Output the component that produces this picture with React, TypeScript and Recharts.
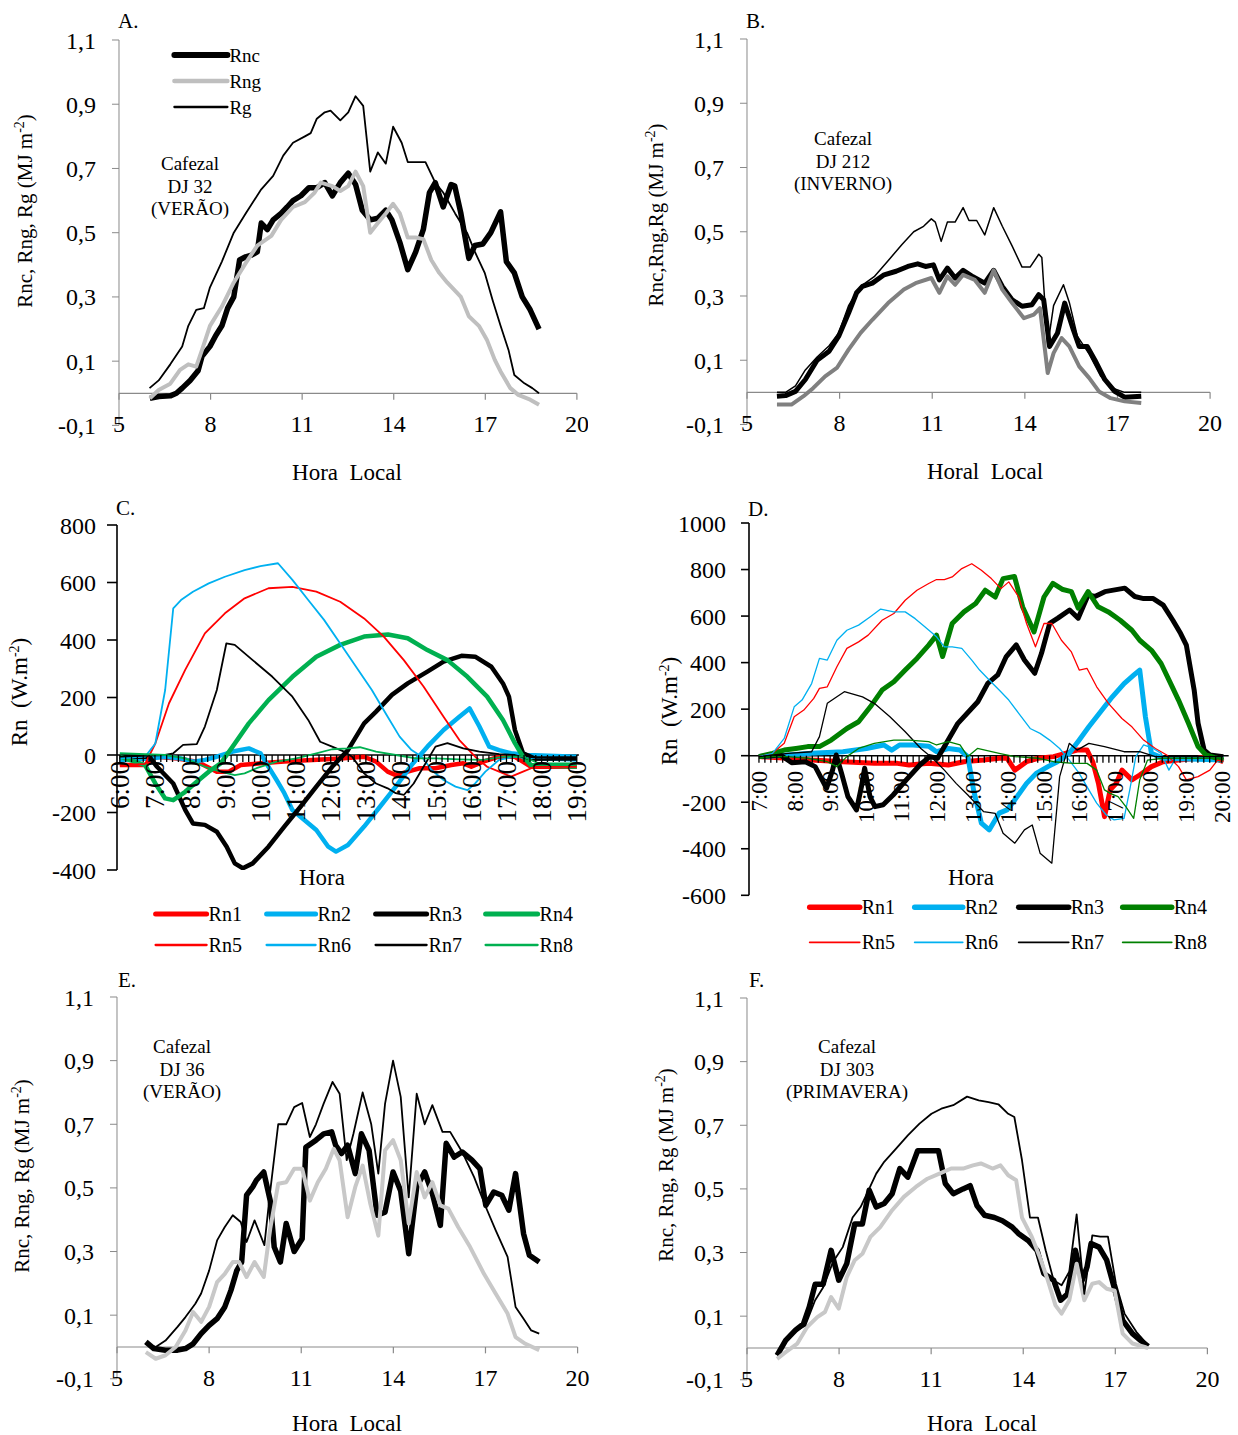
import React from 'react';
import { LineChart, Line, XAxis, YAxis, ReferenceLine, Legend } from 'recharts';

type Pt = [number, number];

// ─── data: [hour, value] ─────────────────────────────────────

// A. Cafezal DJ 32 (verão), MJ m-2
const A_RNC: Pt[] = [[6.01,-0.016],[6.3,-0.01],[6.68,-0.008],[6.88,0],[7.07,0.016],[7.33,0.04],[7.59,0.07],[7.72,0.115],[7.98,0.146],[8.17,0.18],[8.37,0.21],[8.56,0.265],[8.76,0.3],[8.95,0.415],[9.15,0.425],[9.34,0.43],[9.53,0.44],[9.66,0.53],[9.86,0.51],[10.05,0.54],[10.31,0.56],[10.51,0.58],[10.7,0.6],[10.96,0.615],[11.22,0.64],[11.48,0.64],[11.74,0.656],[11.99,0.615],[12.25,0.656],[12.51,0.685],[12.75,0.65],[12.97,0.57],[13.23,0.54],[13.48,0.545],[13.74,0.57],[13.94,0.54],[14.2,0.47],[14.46,0.385],[14.72,0.44],[14.97,0.51],[15.17,0.625],[15.36,0.656],[15.62,0.58],[15.88,0.65],[16.0,0.645],[16.2,0.56],[16.46,0.42],[16.66,0.46],[16.92,0.465],[17.18,0.5],[17.5,0.565],[17.69,0.41],[17.95,0.375],[18.21,0.3],[18.47,0.26],[18.76,0.2]];
const A_RNG: Pt[] = [[6.01,-0.016],[6.3,0.01],[6.68,0.03],[7.0,0.073],[7.27,0.09],[7.53,0.083],[7.72,0.135],[7.98,0.21],[8.37,0.27],[8.76,0.345],[9.15,0.405],[9.53,0.46],[9.99,0.49],[10.31,0.54],[10.7,0.58],[11.09,0.595],[11.41,0.625],[11.61,0.656],[11.99,0.645],[12.25,0.63],[12.51,0.645],[12.75,0.69],[13.0,0.645],[13.23,0.5],[13.48,0.53],[13.74,0.56],[13.98,0.59],[14.2,0.56],[14.46,0.485],[14.72,0.485],[14.97,0.48],[15.23,0.415],[15.49,0.375],[15.75,0.345],[16.2,0.3],[16.46,0.24],[16.79,0.21],[17.05,0.167],[17.31,0.104],[17.5,0.068],[17.82,0.016],[18.08,-0.005],[18.47,-0.02],[18.76,-0.036]];
const A_RG: Pt[] = [[6.0,0.016],[6.3,0.04],[6.68,0.09],[7.07,0.146],[7.27,0.21],[7.53,0.26],[7.78,0.265],[7.98,0.33],[8.37,0.41],[8.76,0.5],[9.15,0.56],[9.66,0.635],[10.05,0.677],[10.38,0.74],[10.7,0.78],[11.09,0.8],[11.28,0.81],[11.48,0.855],[11.74,0.875],[11.93,0.88],[12.25,0.85],[12.51,0.875],[12.75,0.925],[13.0,0.895],[13.23,0.69],[13.48,0.75],[13.74,0.715],[13.98,0.83],[14.26,0.78],[14.46,0.72],[14.65,0.72],[15.04,0.72],[15.36,0.656],[15.62,0.625],[16.01,0.56],[16.4,0.5],[16.66,0.44],[16.98,0.375],[17.24,0.29],[17.5,0.21],[17.76,0.135],[17.95,0.057],[18.28,0.031],[18.54,0.016],[18.76,0]];

// B. Cafezal DJ 212 (inverno)
const B_RNC: Pt[] = [[5.97,-0.012],[6.25,-0.01],[6.57,0.003],[6.89,0.04],[7.27,0.1],[7.66,0.128],[7.97,0.175],[8.29,0.247],[8.55,0.31],[8.74,0.33],[9.06,0.34],[9.44,0.366],[9.83,0.377],[10.21,0.392],[10.53,0.4],[10.78,0.392],[11.04,0.397],[11.23,0.35],[11.49,0.387],[11.74,0.356],[12.0,0.38],[12.32,0.36],[12.7,0.34],[12.99,0.38],[13.27,0.33],[13.59,0.288],[13.91,0.268],[14.23,0.273],[14.45,0.304],[14.61,0.288],[14.8,0.143],[15.06,0.185],[15.29,0.278],[15.57,0.195],[15.76,0.143],[16.02,0.143],[16.27,0.1],[16.59,0.04],[16.91,0.003],[17.23,-0.015],[17.77,-0.012]];
const B_RNG: Pt[] = [[5.97,-0.038],[6.44,-0.038],[6.83,-0.012],[7.14,0.013],[7.53,0.05],[7.91,0.076],[8.29,0.133],[8.68,0.185],[9.06,0.226],[9.57,0.278],[10.08,0.32],[10.46,0.34],[10.97,0.356],[11.23,0.31],[11.49,0.361],[11.74,0.335],[12.0,0.366],[12.38,0.35],[12.7,0.31],[12.99,0.38],[13.27,0.32],[13.59,0.278],[13.97,0.231],[14.29,0.242],[14.49,0.262],[14.74,0.06],[14.93,0.122],[15.19,0.169],[15.44,0.143],[15.76,0.081],[16.08,0.045],[16.4,0.003],[16.78,-0.018],[17.23,-0.028],[17.77,-0.033]];
const B_RG: Pt[] = [[5.97,0],[6.25,0],[6.57,0.02],[6.89,0.07],[7.27,0.11],[7.66,0.145],[7.97,0.185],[8.29,0.27],[8.68,0.33],[9.12,0.36],[9.57,0.41],[10.02,0.46],[10.4,0.5],[10.72,0.517],[10.97,0.54],[11.1,0.53],[11.29,0.47],[11.49,0.53],[11.74,0.53],[12.0,0.575],[12.19,0.535],[12.44,0.535],[12.7,0.49],[12.99,0.575],[13.27,0.517],[13.59,0.455],[13.91,0.39],[14.17,0.39],[14.45,0.43],[14.55,0.42],[14.74,0.145],[14.93,0.27],[15.25,0.335],[15.44,0.28],[15.7,0.175],[16.08,0.12],[16.46,0.05],[16.85,0.013],[17.23,0],[17.77,0]];

// E. Cafezal DJ 36 (verão)
const E_RNC: Pt[] = [[5.94,0.016],[6.2,-0.005],[6.58,-0.01],[6.97,-0.01],[7.23,-0.005],[7.48,0.01],[7.74,0.042],[8.0,0.068],[8.26,0.089],[8.51,0.126],[8.71,0.178],[8.9,0.24],[9.06,0.267],[9.22,0.477],[9.42,0.503],[9.54,0.524],[9.78,0.55],[9.99,0.46],[10.12,0.314],[10.32,0.267],[10.51,0.388],[10.77,0.3],[11.03,0.34],[11.15,0.628],[11.48,0.65],[11.73,0.67],[11.99,0.676],[12.12,0.634],[12.31,0.608],[12.51,0.634],[12.76,0.545],[12.96,0.67],[13.21,0.618],[13.47,0.414],[13.73,0.424],[13.99,0.55],[14.24,0.49],[14.5,0.293],[14.76,0.503],[15.02,0.55],[15.27,0.482],[15.53,0.382],[15.72,0.64],[15.98,0.597],[16.24,0.613],[16.56,0.587],[16.82,0.56],[17.01,0.445],[17.27,0.487],[17.53,0.477],[17.76,0.43],[17.98,0.545],[18.24,0.356],[18.43,0.288],[18.75,0.267]];
const E_RNG: Pt[] = [[5.94,-0.016],[6.26,-0.037],[6.58,-0.026],[6.91,0],[7.23,0.052],[7.48,0.11],[7.74,0.079],[8.0,0.126],[8.26,0.204],[8.51,0.23],[8.77,0.267],[8.97,0.267],[9.22,0.22],[9.48,0.267],[9.78,0.22],[9.99,0.372],[10.25,0.513],[10.51,0.518],[10.77,0.56],[11.03,0.56],[11.28,0.46],[11.54,0.518],[11.8,0.56],[12.06,0.623],[12.25,0.587],[12.51,0.408],[12.76,0.503],[13.0,0.57],[13.25,0.45],[13.51,0.35],[13.73,0.618],[13.99,0.65],[14.24,0.587],[14.5,0.388],[14.76,0.55],[15.02,0.47],[15.27,0.518],[15.53,0.445],[15.79,0.435],[16.11,0.377],[16.5,0.314],[16.95,0.23],[17.33,0.168],[17.72,0.105],[17.98,0.031],[18.3,0.01],[18.75,-0.01]];
const E_RG: Pt[] = [[5.94,0.01],[6.26,0],[6.58,0.02],[6.97,0.063],[7.23,0.094],[7.55,0.136],[7.74,0.168],[8.0,0.24],[8.26,0.335],[8.51,0.377],[8.77,0.414],[9.03,0.393],[9.22,0.33],[9.48,0.398],[9.8,0.32],[9.99,0.49],[10.25,0.7],[10.51,0.7],[10.77,0.754],[11.03,0.767],[11.28,0.66],[11.48,0.7],[11.73,0.765],[12.02,0.833],[12.25,0.796],[12.48,0.587],[12.7,0.67],[13.0,0.8],[13.28,0.7],[13.51,0.545],[13.73,0.765],[13.99,0.9],[14.24,0.786],[14.5,0.47],[14.76,0.796],[15.02,0.7],[15.27,0.76],[15.6,0.676],[15.85,0.676],[16.24,0.613],[16.63,0.534],[17.01,0.44],[17.33,0.367],[17.72,0.283],[17.98,0.126],[18.24,0.089],[18.49,0.052],[18.75,0.042]];

// F. Cafezal DJ 303 (primavera)
const F_RNC: Pt[] = [[5.98,-0.023],[6.26,0.024],[6.58,0.056],[6.84,0.076],[7.03,0.129],[7.22,0.2],[7.48,0.2],[7.74,0.307],[7.99,0.213],[8.25,0.265],[8.51,0.39],[8.76,0.39],[8.98,0.496],[9.21,0.443],[9.47,0.454],[9.73,0.485],[9.98,0.564],[10.24,0.537],[10.56,0.62],[11.01,0.62],[11.24,0.62],[11.46,0.517],[11.72,0.485],[12.04,0.5],[12.27,0.51],[12.49,0.448],[12.74,0.417],[13.06,0.41],[13.32,0.4],[13.64,0.38],[13.84,0.36],[14.16,0.338],[14.45,0.307],[14.67,0.234],[14.99,0.213],[15.22,0.15],[15.44,0.17],[15.7,0.307],[15.92,0.213],[16.08,0.255],[16.21,0.328],[16.47,0.317],[16.72,0.276],[17.02,0.17],[17.24,0.087],[17.56,0.045],[17.82,0.024],[18.07,0.005]];
const F_RNG: Pt[] = [[5.98,-0.034],[6.26,-0.013],[6.64,0.014],[6.96,0.066],[7.29,0.097],[7.54,0.113],[7.74,0.16],[7.99,0.124],[8.25,0.223],[8.51,0.276],[8.76,0.296],[9.02,0.349],[9.34,0.38],[9.73,0.433],[10.11,0.475],[10.5,0.506],[10.88,0.532],[11.27,0.548],[11.65,0.564],[12.04,0.564],[12.36,0.574],[12.62,0.58],[13.0,0.564],[13.26,0.574],[13.51,0.543],[13.77,0.527],[13.96,0.41],[14.28,0.349],[14.54,0.286],[14.8,0.213],[15.05,0.134],[15.25,0.108],[15.5,0.15],[15.74,0.265],[15.99,0.15],[16.25,0.202],[16.47,0.207],[16.72,0.186],[16.98,0.18],[17.24,0.045],[17.56,0.014],[18.07,0]];
const F_RG: Pt[] = [[5.98,-0.023],[6.26,0.024],[6.64,0.056],[6.9,0.071],[7.22,0.15],[7.48,0.19],[7.8,0.27],[8.12,0.317],[8.44,0.41],[8.7,0.443],[8.96,0.496],[9.21,0.548],[9.47,0.585],[9.85,0.626],[10.24,0.668],[10.62,0.705],[11.01,0.736],[11.33,0.752],[11.72,0.763],[12.17,0.79],[12.55,0.778],[12.87,0.773],[13.19,0.766],[13.51,0.736],[13.71,0.726],[13.96,0.59],[14.22,0.41],[14.48,0.41],[14.73,0.307],[14.99,0.213],[15.25,0.197],[15.5,0.24],[15.74,0.42],[15.99,0.17],[16.25,0.354],[16.51,0.35],[16.76,0.35],[17.02,0.202],[17.3,0.108],[17.69,0.05],[18.07,0.008]];

// C. Rn (W m-2), 6:00-19:00
const C_RN1: Pt[] = [[6,-35],[6.72,-35],[7.06,-6],[7.63,-12],[8.19,-23],[8.76,-58],[9.1,-58],[9.44,-35],[10,-29],[10.68,-23],[11.48,-17],[12.27,-12],[12.95,-6],[13.29,-23],[13.62,-58],[13.85,-70],[14.19,-58],[14.53,-46],[14.98,-46],[15.43,-35],[15.77,-29],[16,-41],[16.34,-23],[16.79,-6],[17.24,-6],[17.7,-41],[19,-41]];
const C_RN2: Pt[] = [[6,-17],[6.84,-12],[7.29,-6],[7.74,-12],[8.08,-23],[8.42,-17],[8.76,-6],[9.21,12],[9.67,23],[10,6],[10.23,-41],[10.46,-87],[10.68,-133],[10.91,-191],[11.25,-226],[11.59,-261],[11.93,-319],[12.15,-336],[12.49,-313],[12.95,-249],[13.4,-180],[13.85,-110],[14.3,-35],[14.75,29],[15.21,87],[15.66,133],[15.95,162],[16.23,99],[16.51,29],[16.79,17],[17.13,6],[17.58,0],[19,-6]];
const C_RN3: Pt[] = [[6,-6],[6.84,-6],[7.06,-41],[7.52,-99],[7.86,-191],[8.08,-238],[8.42,-243],[8.76,-267],[9.04,-319],[9.27,-377],[9.5,-394],[9.78,-377],[10.23,-319],[10.68,-249],[11.14,-180],[11.59,-110],[12.04,-41],[12.49,17],[12.95,110],[13.29,151],[13.74,209],[14.19,249],[14.75,290],[15.21,325],[15.72,345],[16.11,342],[16.57,307],[16.9,249],[17.07,203],[17.24,87],[17.47,6],[17.81,-12],[19,-12]];
const C_RN4: Pt[] = [[6,-6],[6.72,-35],[7.01,-99],[7.29,-151],[7.52,-157],[7.86,-128],[8.19,-93],[8.53,-58],[8.87,-29],[9.21,29],[9.67,110],[10.23,191],[10.91,272],[11.59,342],[12.27,383],[12.95,412],[13.63,419],[14.19,406],[14.75,365],[15.32,330],[15.89,272],[16.45,203],[16.9,122],[17.24,41],[17.47,-6],[17.7,-35],[19,-41]];
const C_RN5: Pt[] = [[6,-35],[6.72,-31],[7.01,40],[7.4,180],[7.86,296],[8.42,423],[8.99,493],[9.55,545],[10.23,580],[10.91,585],[11.59,568],[12.27,533],[12.95,475],[13.51,412],[14.08,330],[14.64,238],[15.21,133],[15.66,52],[16.11,-6],[16.45,-41],[16.79,-58],[17.13,-75],[17.47,-58],[17.81,-41],[19,-41]];
const C_RN6: Pt[] = [[6,-12],[6.72,-6],[7.01,40],[7.29,226],[7.52,510],[7.74,539],[8.08,568],[8.53,597],[8.99,620],[9.55,643],[10,657],[10.5,667],[10.91,609],[11.36,539],[11.81,470],[12.27,388],[12.72,307],[13.17,226],[13.62,133],[13.96,64],[14.3,17],[14.59,-6],[14.87,-52],[15.21,-87],[15.55,-110],[15.89,-122],[16.11,-99],[16.4,-58],[16.79,-17],[17.24,-6],[17.81,-15],[19,-20]];
const C_RN7: Pt[] = [[6,-6],[7.29,0],[7.52,6],[7.8,35],[8.19,38],[8.42,99],[8.76,226],[9.03,388],[9.27,383],[9.78,330],[10.34,272],[10.91,203],[11.36,122],[11.7,46],[12.04,29],[12.38,12],[12.61,-6],[12.95,-64],[13.29,-99],[13.62,-116],[13.85,-133],[14.08,-139],[14.36,-99],[14.64,-41],[14.98,29],[15.32,41],[15.77,23],[16.23,12],[16.79,3],[17.24,0],[17.7,-17],[19,-17]];
const C_RN8: Pt[] = [[6,6],[7.29,0],[7.86,-12],[8.42,-41],[8.87,-58],[9.27,-70],[9.55,-64],[9.89,-46],[10.46,-23],[11.02,-12],[11.59,6],[12.04,20],[12.49,23],[12.83,27],[13.29,12],[13.85,0],[14.42,-12],[14.98,-12],[15.66,-15],[16.34,-17],[16.9,-6],[17.47,-6],[17.92,-29],[19,-29]];

// D. Rn (W m-2), 7:00-20:00
const D_RN1: Pt[] = [[7,-4],[7.82,-11],[8.48,-19],[9.36,-26],[10.24,-33],[10.89,-33],[11.22,-40],[11.77,-33],[12.32,-40],[12.76,-26],[13.31,-19],[13.75,-11],[13.97,-11],[14.19,-62],[14.52,-26],[14.84,-11],[15.28,-4],[15.61,10],[15.94,24],[16.22,24],[16.38,-26],[16.54,-119],[16.71,-262],[16.87,-147],[17.04,-119],[17.2,-62],[17.48,-104],[17.7,-83],[18.03,-47],[18.36,-26],[18.79,-19],[19.34,-11],[19.67,-4],[20.05,-26]];
const D_RN2: Pt[] = [[7,-4],[7.82,3],[8.48,10],[9.36,17],[10.02,31],[10.51,46],[10.73,24],[10.95,46],[11.33,46],[11.77,41],[11.99,17],[12.32,31],[12.65,24],[12.87,-4],[13.03,-147],[13.25,-290],[13.47,-319],[13.75,-247],[13.97,-233],[14.19,-190],[14.52,-119],[14.79,-76],[15.12,-47],[15.39,-26],[15.72,10],[16,67],[16.27,124],[16.6,189],[16.93,253],[17.26,310],[17.53,346],[17.7,368],[17.86,167],[18.03,10],[18.36,-11],[20.05,-19]];
const D_RN3: Pt[] = [[7,-4],[7.6,3],[7.92,-30],[8.3,-26],[8.58,-47],[8.9,-140],[9.07,-61],[9.17,3],[9.32,-75],[9.5,-176],[9.74,-233],[9.88,-133],[9.97,-54],[10.12,-176],[10.26,-219],[10.49,-211],[10.77,-169],[11.14,-104],[11.52,-40],[11.8,-4],[12.02,-11],[12.59,139],[13.15,232],[13.43,311],[13.71,347],[13.95,426],[14.23,476],[14.46,411],[14.75,354],[14.94,440],[15.17,569],[15.4,591],[15.73,626],[15.97,591],[16.25,691],[16.44,684],[16.72,705],[17.28,720],[17.56,684],[17.81,675],[18.08,675],[18.36,647],[18.63,582],[18.85,525],[19.01,475],[19.23,282],[19.34,139],[19.51,24],[19.67,3],[20.05,-4]];
const D_RN4: Pt[] = [[7,-4],[7.38,10],[7.71,24],[8.04,31],[8.37,39],[8.7,39],[9.03,67],[9.47,117],[9.8,146],[10.13,210],[10.46,282],[10.79,318],[11.11,368],[11.44,418],[11.77,475],[11.99,518],[12.16,426],[12.43,568],[12.76,618],[13.09,654],[13.36,711],[13.64,682],[13.86,761],[14.18,770],[14.41,639],[14.73,532],[15.01,682],[15.26,741],[15.54,714],[15.78,705],[15.97,634],[16.25,705],[16.53,640],[16.82,618],[17.15,582],[17.48,539],[17.7,496],[18.03,453],[18.3,396],[18.57,310],[18.79,239],[19.07,139],[19.34,39],[19.56,3],[20.05,-19]];
const D_RN5: Pt[] = [[7,-4],[7.38,10],[7.71,53],[7.99,167],[8.26,196],[8.54,246],[8.7,289],[8.92,296],[9.19,382],[9.47,461],[9.8,489],[10.07,518],[10.46,582],[10.79,611],[11.11,668],[11.44,711],[11.77,740],[11.99,757],[12.21,757],[12.43,768],[12.7,804],[12.98,825],[13.25,797],[13.53,761],[13.8,718],[14.02,747],[14.3,682],[14.52,568],[14.77,468],[15.01,568],[15.23,568],[15.5,496],[15.78,446],[16,368],[16.22,375],[16.49,296],[16.82,225],[17.2,160],[17.48,124],[17.81,67],[18.14,31],[18.46,3],[18.79,-47],[19.01,-104],[19.34,-90],[19.67,-62],[19.89,-19],[20.05,-26]];
const D_RN6: Pt[] = [[7,-4],[7.38,10],[7.71,74],[7.99,210],[8.21,239],[8.48,310],[8.7,418],[8.92,411],[9.19,496],[9.47,539],[9.8,561],[10.13,597],[10.42,630],[10.79,618],[11.11,618],[11.39,589],[11.66,554],[11.99,511],[12.21,468],[12.43,468],[12.7,461],[12.98,411],[13.2,368],[13.47,325],[13.75,282],[14.02,239],[14.3,182],[14.62,117],[14.9,96],[15.17,67],[15.45,31],[15.72,-19],[16,-76],[16.27,-147],[16.49,-204],[16.76,-255],[16.98,-276],[17.26,-269],[17.42,-147],[17.59,-4],[17.81,46],[18.08,31],[18.3,10],[18.52,-62],[18.74,-4],[19.12,-4],[20.05,-4]];
const D_RN7: Pt[] = [[7,-4],[7.82,10],[8.48,17],[8.7,82],[8.92,225],[9.19,253],[9.4,275],[9.91,253],[10.24,225],[10.68,167],[11.11,103],[11.55,31],[11.88,-11],[12.21,-62],[12.54,-119],[12.87,-169],[13.09,-205],[13.31,-240],[13.64,-248],[13.86,-333],[14.19,-376],[14.46,-319],[14.68,-298],[14.9,-419],[15.23,-462],[15.45,-90],[15.72,53],[15.94,24],[16.27,53],[16.71,39],[17.26,17],[17.7,17],[18.14,-4],[20.05,-4]];
const D_RN8: Pt[] = [[7,-11],[7.38,-4],[7.82,-4],[8.37,-11],[8.92,-26],[9.19,-47],[9.47,-4],[9.8,31],[10.24,53],[10.79,67],[11.22,67],[11.77,60],[11.99,46],[12.32,60],[12.65,46],[12.87,-4],[13.14,31],[13.75,10],[14.19,-4],[14.84,-11],[15.28,-26],[15.83,-33],[16.22,-33],[16.49,-62],[16.71,-147],[16.87,-162],[17.09,-176],[17.31,-219],[17.53,-269],[17.7,-104],[17.92,-19],[18.36,-11],[20.05,-11]];

// ─── axis ticks ──────────────────────────────────────────

const HOUR_TICKS = [5, 8, 11, 14, 17, 20];
const MJ_TICKS = [-0.1, 0.1, 0.3, 0.5, 0.7, 0.9, 1.1];
const C_Y_TICKS = [-400, -200, 0, 200, 400, 600, 800];
const D_Y_TICKS = [-600, -400, -200, 0, 200, 400, 600, 800, 1000];

// ─── styling ────────────────────────────────────────────

const FONT = '"Liberation Serif", "Times New Roman", serif';
const GRAY_AXIS = '#8a8a8a';
const RED = '#FF0000';
const BLUE = '#00B0F0';
const GREEN = '#00B050';
const DKGREEN = '#008000';

const YW = 100; // y axis width
const MT = 22;
const MR = 12;
const XH = 30;

interface Series {
  name: string;
  data: Pt[];
  color: string;
  width: number;
}

interface Box {
  x0: number;
  x1: number;
  y0: number;
  y1: number;
}

interface LegendItem {
  name: string;
  x1: number;
  x2: number;
  y: number;
}

const rows = (pts: Pt[]) => pts.map(([t, v]) => ({ t, v }));
const comma = (v: number) => v.toFixed(1).replace('.', ',');

function makeLegend(items: LegendItem[], series: Series[], ox: number, oy: number, fontSize: number) {
  return ({ payload }: any) => {
    const byName: Record<string, any> = {};
    (payload || []).forEach((p: any) => (byName[p.value] = p));
    return (
      <svg width={1238} height={1435} style={{ overflow: 'visible', display: 'block' }}>
        {items.map((it) => {
          const s = series.find((q) => q.name === it.name)!;
          const color = byName[it.name]?.color ?? s.color;
          return (
            <g key={it.name}>
              <line x1={it.x1 - ox} x2={it.x2 - ox} y1={it.y - oy} y2={it.y - oy} stroke={color} strokeWidth={s.width + 0.5} strokeLinecap="round" />
              <text x={it.x2 - ox + 2} y={it.y - oy} dy="0.35em" fontSize={fontSize} fontFamily={FONT} fill="#000">
                {it.name}
              </text>
            </g>
          );
        })}
      </svg>
    );
  };
}

function hourTick(props: any) {
  const { x, y, payload } = props;
  return (
    <text x={x} y={y - 1.5} dy="0.35em" textAnchor="middle" fontSize={24} fontFamily={FONT} fill="#000">
      {payload.value}
    </text>
  );
}

function EnergyPanel({ box, series, legend }: { box: Box; series: Series[]; legend?: LegendItem[] }) {
  const { x0, x1, y0, y1 } = box;
  const left = x0 - YW;
  const top = y0 - MT;
  const width = x1 - x0 + YW + MR;
  const height = y1 - y0 + MT + XH;
  return (
    <div style={{ position: 'absolute', left, top }}>
      <LineChart width={width} height={height} margin={{ top: MT, right: MR, bottom: 0, left: 0 }}>
        <XAxis type="number" dataKey="t" domain={[5, 20]} ticks={HOUR_TICKS} interval={0} height={XH}
          axisLine={false} tickLine={false} tickSize={0} tickMargin={0} tick={hourTick} allowDataOverflow />
        <YAxis type="number" domain={[-0.1, 1.1]} ticks={MJ_TICKS} interval={0} width={YW} tickFormatter={comma}
          tick={{ fill: '#000', fontSize: 24, fontFamily: FONT }} axisLine={{ stroke: GRAY_AXIS }}
          tickLine={{ stroke: GRAY_AXIS }} tickSize={7} tickMargin={16} allowDataOverflow />
        <ReferenceLine y={0} stroke={GRAY_AXIS} strokeWidth={1.2} ifOverflow="visible" />
        {HOUR_TICKS.map((t) => (
          <ReferenceLine key={t} segment={[{ x: t, y: 0 }, { x: t, y: -0.02 }]} stroke={GRAY_AXIS} strokeWidth={1.2} ifOverflow="visible" />
        ))}
        {series.map((s) => (
          <Line key={s.name} data={rows(s.data)} dataKey="v" name={s.name} type="linear" stroke={s.color}
            strokeWidth={s.width} strokeLinejoin="round" dot={false} activeDot={false} isAnimationActive={false} />
        ))}
        {legend && (
          <Legend layout="horizontal" verticalAlign="middle" align="center"
            wrapperStyle={{ left: 0, top: 0, width, height, margin: 0 }}
            content={makeLegend(legend, series, left, top, 19)} />
        )}
      </LineChart>
    </div>
  );
}

function FluxPanel({ box, xDomain, hourStart, yDomain, yTicks, series, legend, labelSize, labelGap, yTickSize, yTickMargin }: {
  box: Box; xDomain: [number, number]; hourStart: number; yDomain: [number, number]; yTicks: number[]; series: Series[]; legend: LegendItem[];
  labelSize: number; labelGap: number; yTickSize: number; yTickMargin: number;
}) {
  const { x0, x1, y0, y1 } = box;
  const left = x0 - YW;
  const top = y0 - MT;
  const width = x1 - x0 + YW + MR;
  const height = y1 - y0 + MT + XH;
  const plotH = y1 - y0;
  const minorTicks = Array.from({ length: 79 }, (_, i) => hourStart + i / 6);

  const timeTick = (props: any) => {
    const { x, y, payload } = props;
    const zy = y - (plotH * (0 - yDomain[0])) / (yDomain[1] - yDomain[0]);
    const v = payload.value as number;
    const whole = Math.abs(v - Math.round(v)) < 1e-6;
    const ly = zy + labelGap;
    return (
      <g>
        <line x1={x} x2={x} y1={zy} y2={zy + 7} stroke="#000" strokeWidth={1.3} />
        {whole && (
          <text transform={`rotate(-90 ${x} ${ly})`} x={x} y={ly} dy="0.35em" textAnchor="end" fontSize={labelSize} fontFamily={FONT} fill="#000">
            {`${Math.round(v)}:00`}
          </text>
        )}
      </g>
    );
  };

  return (
    <div style={{ position: 'absolute', left, top }}>
      <LineChart width={width} height={height} margin={{ top: MT, right: MR, bottom: 0, left: 0 }}>
        <XAxis type="number" dataKey="t" domain={xDomain} ticks={minorTicks} interval={0} height={XH}
          axisLine={false} tickLine={false} tickSize={0} tickMargin={0} tick={timeTick} allowDataOverflow />
        <YAxis type="number" domain={yDomain} ticks={yTicks} interval={0} width={YW}
          tick={{ fill: '#000', fontSize: 24, fontFamily: FONT }} axisLine={{ stroke: '#000', strokeWidth: 1.6 }}
          tickLine={{ stroke: '#000', strokeWidth: 1.6 }} tickSize={yTickSize} tickMargin={yTickMargin} allowDataOverflow />
        <ReferenceLine y={0} stroke="#000" strokeWidth={1.6} ifOverflow="visible" />
        {series.map((s) => (
          <Line key={s.name} data={rows(s.data)} dataKey="v" name={s.name} type="linear" stroke={s.color}
            strokeWidth={s.width} strokeLinejoin="round" dot={false} activeDot={false} isAnimationActive={false} />
        ))}
        <Legend layout="horizontal" verticalAlign="middle" align="center"
          wrapperStyle={{ left: 0, top: 0, width, height, margin: 0 }}
          content={makeLegend(legend, series, left, top, 20)} />
      </LineChart>
    </div>
  );
}

// ─── panels ──────────────────────────────────────────────

const SER_A: Series[] = [
  { name: 'Rnc', data: A_RNC, color: '#000', width: 5.5 },
  { name: 'Rng', data: A_RNG, color: '#BFBFBF', width: 4 },
  { name: 'Rg', data: A_RG, color: '#000', width: 1.8 },
];
const SER_B: Series[] = [
  { name: 'Rnc', data: B_RNC, color: '#000', width: 5 },
  { name: 'Rng', data: B_RNG, color: '#808080', width: 4 },
  { name: 'Rg', data: B_RG, color: '#000', width: 1.5 },
];
const SER_E: Series[] = [
  { name: 'Rnc', data: E_RNC, color: '#000', width: 5.5 },
  { name: 'Rng', data: E_RNG, color: '#C8C8C8', width: 4 },
  { name: 'Rg', data: E_RG, color: '#000', width: 1.8 },
];
const SER_F: Series[] = [
  { name: 'Rnc', data: F_RNC, color: '#000', width: 5.5 },
  { name: 'Rng', data: F_RNG, color: '#C8C8C8', width: 4 },
  { name: 'Rg', data: F_RG, color: '#000', width: 1.8 },
];
const SER_C: Series[] = [
  { name: 'Rn1', data: C_RN1, color: RED, width: 4.5 },
  { name: 'Rn2', data: C_RN2, color: BLUE, width: 4.5 },
  { name: 'Rn3', data: C_RN3, color: '#000', width: 4.5 },
  { name: 'Rn4', data: C_RN4, color: GREEN, width: 4.5 },
  { name: 'Rn5', data: C_RN5, color: RED, width: 1.8 },
  { name: 'Rn6', data: C_RN6, color: BLUE, width: 1.8 },
  { name: 'Rn7', data: C_RN7, color: '#000', width: 1.8 },
  { name: 'Rn8', data: C_RN8, color: GREEN, width: 1.8 },
];
const SER_D: Series[] = [
  { name: 'Rn1', data: D_RN1, color: RED, width: 5 },
  { name: 'Rn2', data: D_RN2, color: BLUE, width: 5 },
  { name: 'Rn3', data: D_RN3, color: '#000', width: 5 },
  { name: 'Rn4', data: D_RN4, color: DKGREEN, width: 5 },
  { name: 'Rn5', data: D_RN5, color: RED, width: 1.3 },
  { name: 'Rn6', data: D_RN6, color: BLUE, width: 1.3 },
  { name: 'Rn7', data: D_RN7, color: '#000', width: 1.3 },
  { name: 'Rn8', data: D_RN8, color: DKGREEN, width: 1.3 },
];

const LEG_A: LegendItem[] = [
  { name: 'Rnc', x1: 174, x2: 227, y: 55 },
  { name: 'Rng', x1: 174, x2: 227, y: 81 },
  { name: 'Rg', x1: 174, x2: 227, y: 107 },
];

const gridLegend = (cols: [number, number][], rowsY: [number, number]): LegendItem[] =>
  ['Rn1', 'Rn2', 'Rn3', 'Rn4', 'Rn5', 'Rn6', 'Rn7', 'Rn8'].map((name, i) => ({
    name, x1: cols[i % 4][0], x2: cols[i % 4][1], y: rowsY[i < 4 ? 0 : 1],
  }));

const LEG_C = gridLegend([[156, 207], [267, 316], [376, 427], [486, 538]], [914, 945]);
const LEG_D = gridLegend([[810, 860], [915, 963], [1019, 1069], [1123, 1172]], [907, 942]);

function Sup({ children }: { children: React.ReactNode }) {
  return (
    <>
      <tspan dy="-8" fontSize={14}>{children}</tspan>
      <tspan dy="8">)</tspan>
    </>
  );
}

function YTitle({ x, y, text, size = 21 }: { x: number; y: number; text: string; size?: number }) {
  return (
    <text x={x} y={y} dy="0.35em" transform={`rotate(-90 ${x} ${y})`} textAnchor="middle" fontSize={size} fontFamily={FONT} fill="#000">
      {text}
      <Sup>-2</Sup>
    </text>
  );
}

function Note({ x, y, lines }: { x: number; y: number; lines: string[] }) {
  return (
    <text x={x} y={y} textAnchor="middle" fontSize={19} fontFamily={FONT} fill="#000">
      {lines.map((l, i) => (
        <tspan key={i} x={x} dy={i === 0 ? 0 : 22.5}>{l}</tspan>
      ))}
    </text>
  );
}

const T = { fontFamily: FONT, fill: '#000' };

export default function App() {
  return (
    <div style={{ position: 'absolute', left: 0, top: 0, width: 1238, height: 1435, background: '#fff', fontFamily: FONT }}>
      <EnergyPanel box={{ x0: 118.6, x1: 576.5, y0: 40, y1: 425.4 }} series={SER_A} legend={LEG_A} />
      <EnergyPanel box={{ x0: 746.9, x1: 1210, y0: 39.3, y1: 424.8 }} series={SER_B} />
      <FluxPanel box={{ x0: 117.4, x1: 579.3, y0: 525, y1: 870 }} xDomain={[5.92, 19.06]} hourStart={6}
        yDomain={[-400, 800]} yTicks={C_Y_TICKS} series={SER_C} legend={LEG_C}
        labelSize={27} labelGap={6} yTickSize={10} yTickMargin={11} />
      <FluxPanel box={{ x0: 749.3, x1: 1229, y0: 522.7, y1: 895 }} xDomain={[6.72, 20.2]} hourStart={7}
        yDomain={[-600, 1000]} yTicks={D_Y_TICKS} series={SER_D} legend={LEG_D}
        labelSize={23} labelGap={15} yTickSize={8} yTickMargin={15} />
      <EnergyPanel box={{ x0: 117.4, x1: 578, y0: 996.7, y1: 1378.5 }} series={SER_E} />
      <EnergyPanel box={{ x0: 746.9, x1: 1207.3, y0: 997.7, y1: 1379.5 }} series={SER_F} />

      <svg width={1238} height={1435} style={{ position: 'absolute', left: 0, top: 0, pointerEvents: 'none' }}>
        <g fontSize={21} {...T}>
          <text x={118} y={28}>A.</text>
          <text x={746} y={28}>B.</text>
          <text x={116} y={515}>C.</text>
          <text x={748} y={516}>D.</text>
          <text x={118} y={987}>E.</text>
          <text x={749} y={987}>F.</text>
        </g>

        <Note x={190} y={170} lines={['Cafezal', 'DJ 32', '(VERÃO)']} />
        <Note x={843} y={145} lines={['Cafezal', 'DJ 212', '(INVERNO)']} />
        <Note x={182} y={1053} lines={['Cafezal', 'DJ 36', '(VERÃO)']} />
        <Note x={847} y={1053} lines={['Cafezal', 'DJ 303', '(PRIMAVERA)']} />

        <YTitle x={25} y={211} text="Rnc, Rng, Rg (MJ m" />
        <YTitle x={656} y={215} text="Rnc,Rng,Rg (MJ m" />
        <YTitle x={22} y={1176} text="Rnc, Rng, Rg (MJ m" />
        <YTitle x={666} y={1165} text="Rnc, Rng, Rg (MJ m" />
        <YTitle x={19} y={692} text={'Rn\u00A0\u00A0(W.m'} size={23} />
        <YTitle x={669} y={711} text={'Rn\u00A0\u00A0(W.m'} size={23} />

        <g fontSize={23} textAnchor="middle" {...T}>
          <text x={347} y={480}>{'Hora\u00A0\u00A0Local'}</text>
          <text x={985} y={479}>{'Horal\u00A0\u00A0Local'}</text>
          <text x={347} y={1431}>{'Hora\u00A0\u00A0Local'}</text>
          <text x={982} y={1431}>{'Hora\u00A0\u00A0Local'}</text>
          <text x={322} y={885}>Hora</text>
          <text x={971} y={885}>Hora</text>
        </g>
      </svg>
    </div>
  );
}
